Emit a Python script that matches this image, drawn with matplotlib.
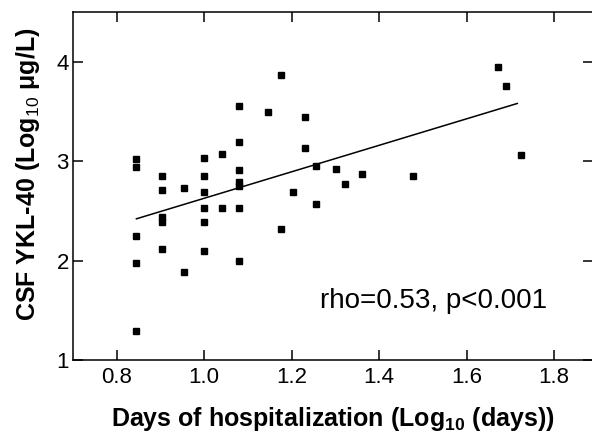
import matplotlib
matplotlib.use("Agg")
import matplotlib.pyplot as plt

plt.rcParams['font.family'] = ['Liberation Sans', 'DejaVu Sans']
plt.rcParams['mathtext.fontset'] = 'custom'
plt.rcParams['mathtext.rm'] = 'Liberation Sans'
plt.rcParams['mathtext.bf'] = 'Liberation Sans:bold'
plt.rcParams['mathtext.it'] = 'Liberation Sans:italic'

# log10 of hospitalization days, log10 of CSF YKL-40
dias = [0.845, 0.845, 0.845, 0.845, 0.845,
        0.903, 0.903, 0.903, 0.903, 0.903,
        0.954, 0.954,
        1.0, 1.0, 1.0, 1.0, 1.0, 1.0,
        1.041, 1.041,
        1.079, 1.079, 1.079, 1.079, 1.079, 1.079, 1.079,
        1.146,
        1.176, 1.176,
        1.204,
        1.230, 1.230,
        1.255, 1.255,
        1.301, 1.322, 1.362, 1.477,
        1.672, 1.690, 1.724]
ykl40 = [3.02, 2.94, 2.25, 1.98, 1.29,
         2.85, 2.71, 2.44, 2.39, 2.12,
         2.73, 1.88,
         3.03, 2.85, 2.69, 2.53, 2.39, 2.10,
         3.07, 2.53,
         3.55, 3.19, 2.91, 2.79, 2.75, 2.53, 2.00,
         3.49,
         3.87, 2.32,
         2.69,
         3.44, 3.13,
         2.95, 2.57,
         2.92, 2.77, 2.87, 2.85,
         3.95, 3.76, 3.06]

# reta de regressao (extremos)
reta_x = [0.845, 1.716]
reta_y = [2.42, 3.58]

x_ticks = [0.8, 1.0, 1.2, 1.4, 1.6, 1.8]
y_ticks = [1, 2, 3, 4]

fig = plt.figure(figsize=(5.92, 4.33), dpi=100)
ax = fig.add_axes([0.1233, 0.1686, 0.879, 0.8037])

ax.plot(dias, ykl40, linestyle='none', marker='s', markersize=5,
        color='black')
ax.plot(reta_x, reta_y, color='black', linewidth=1.1)

ax.set_xlim(0.7, 1.89)
ax.set_ylim(1, 4.5)
ax.set_xticks(x_ticks)
ax.set_xticklabels([f"{v:.1f}" for v in x_ticks])
ax.set_yticks(y_ticks)
ax.set_yticklabels([str(v) for v in y_ticks])

for lado in ['left', 'bottom', 'top']:
    ax.spines[lado].set_linewidth(1.1)
ax.spines['right'].set_visible(False)

ax.tick_params(direction='in', length=7, width=1.1, labelsize=16,
               top=True, right=True, pad=5)
ax.tick_params(axis='y', pad=3)

ax.set_xlabel(r"Days of hospitalization (Log$_{\mathbf{10}}$ (days))",
              fontsize=18, fontweight='bold', labelpad=12)
ax.set_ylabel(r"CSF YKL-40 (Log$_{\mathrm{10}}$ $\mathbf{\mu}$g/L)",
              fontsize=18, fontweight='bold')
ax.yaxis.set_label_coords(-0.06, 0.535)

ax.text(0.475, 0.149, "rho=0.53, p<0.001", transform=ax.transAxes,
        fontsize=20, va='baseline', ha='left')

fig.savefig("out.png", dpi=100)
